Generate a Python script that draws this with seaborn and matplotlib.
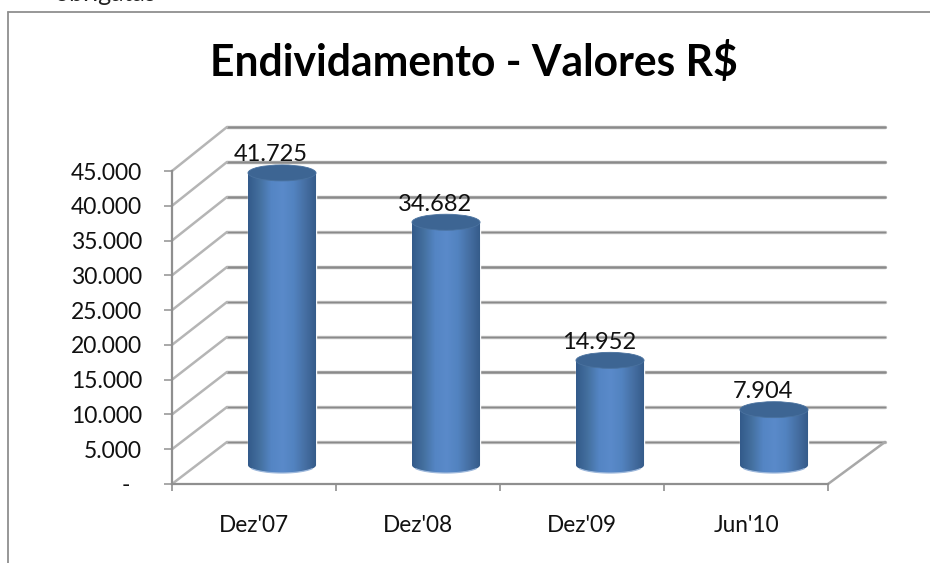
import matplotlib
matplotlib.use("Agg")
import matplotlib.pyplot as plt
import numpy as np
import pandas as pd
import seaborn as sns
from matplotlib.lines import Line2D
from matplotlib.patches import ConnectionPatch, Ellipse
from matplotlib.path import Path
from matplotlib.colors import LinearSegmentedColormap

periodos = ["Dez'07", "Dez'08", "Dez'09", "Jun'10"]
valores = [41725, 34682, 14952, 7904]
eixo_y = [0, 5000, 10000, 15000, 20000, 25000, 30000, 35000, 40000, 45000]
rotulos_y = ["-  ", "5.000", "10.000", "15.000", "20.000", "25.000", "30.000", "35.000", "40.000", "45.000"]
titulo = "Endividamento - Valores R$"
texto_cortado = "obrigatas"

W, H = 930, 563
sns.set_theme(style="white")
plt.rcParams["font.family"] = ["Lato", "DejaVu Sans"]

fig = plt.figure(figsize=(W / 100, H / 100), dpi=100)


def caixa(x0, x1, y_top, y_bot):
    return [x0 / W, 1 - y_bot / H, (x1 - x0) / W, (y_bot - y_top) / H]


def linha_fig(x0, y0, x1, y1, **kw):
    fig.add_artist(Line2D([x0 / W, x1 / W], [1 - y0 / H, 1 - y1 / H], transform=fig.transFigure, **kw))


# moldura do grafico
linha_fig(8, 12, 930, 12, color="#8f8f8f", lw=1.3)
linha_fig(8, 12, 8, 563, color="#8f8f8f", lw=1.3)

# resto do texto da pagina, cortado na borda de cima como no original
fig.text(55 / W, 1 - 1 / H, texto_cortado, ha="left", va="baseline", fontsize=18, color="#222222")

# parede do fundo
ax_fundo = fig.add_axes(caixa(227, 885, 127, 442))
ax_fundo.set_xlim(-0.5, 3.5)
ax_fundo.set_ylim(0, 45000)
ax_fundo.axis("off")
for i, v in enumerate(eixo_y):
    claro = "#bdbdbd" if i in (0, 1, 3, 4, 6) else "#a6a6a6"
    ax_fundo.axhline(v, color=claro, lw=2.4, clip_on=False, zorder=1)
    ax_fundo.axhline(v, color="#8a8a8a", lw=1.0, clip_on=False, zorder=2)

# eixos da frente
ax = fig.add_axes(caixa(172, 828, 171, 484))
ax.patch.set_alpha(0)
ax.set_xlim(-0.5, 3.5)
ax.set_ylim(0, 45000)
sns.despine(ax=ax, top=True, right=True)
for lado in ("left", "bottom"):
    ax.spines[lado].set_color("#8f8f8f")
    ax.spines[lado].set_linewidth(1.6)
ax.set_yticks(eixo_y)
ax.set_yticklabels(rotulos_y, fontsize=16.5, color="#111111")
ax.set_xticks(range(4))
ax.set_xticklabels(periodos, fontsize=16.3, color="#111111")
ax.set_xticks(np.arange(-0.5, 4, 1), minor=True)
ax.tick_params(axis="x", which="major", length=0, pad=22.5)
ax.tick_params(axis="x", which="minor", length=5, width=1.2, color="#8f8f8f", bottom=True)
ax.tick_params(axis="y", length=6, width=1.2, color="#9a9a9a", pad=15.5, left=True)

# linhas laterais e do piso
for v in eixo_y:
    ax.add_artist(ConnectionPatch((-0.5, v), (-0.5, v), "data", "data", axesA=ax, axesB=ax_fundo,
                                  color="#b5b5b5", lw=1.8, zorder=0))
ax.add_artist(ConnectionPatch((3.5, 0), (3.5, 0), "data", "data", axesA=ax, axesB=ax_fundo,
                              color="#a8a8a8", lw=1.8, zorder=0))

# colunas
ax_bar = fig.add_axes(caixa(200, 856, 465 - 47000 * 0.007, 465 + 3000 * 0.007))
ax_bar.patch.set_alpha(0)
df = pd.DataFrame({"periodo": periodos, "valor": valores})
sns.barplot(data=df, x="periodo", y="valor", ax=ax_bar, width=0.415, color="#4f81bd", saturation=1)
ax_bar.axis("off")

grad = LinearSegmentedColormap.from_list(
    "cil", ["#335a8a", "#44709f", "#5485c4", "#5a8aca", "#5283c0", "#466fa3", "#345a88"])
faixa = np.linspace(0, 1, 128).reshape(1, -1)
alt_elipse = 8 / 0.007

for barra, v in zip(ax_bar.patches, valores):
    x0, larg = barra.get_x(), barra.get_width()
    meio = x0 + larg / 2
    t = np.linspace(np.pi, 2 * np.pi, 40)
    arco = np.column_stack([meio + larg / 2 * np.cos(t), alt_elipse * np.sin(t)])
    pontos = np.vstack([[[x0, v]], arco, [[x0 + larg, v]], [[x0, v]]])
    contorno = Path(pontos, closed=True)
    img = ax_bar.imshow(faixa, extent=[x0, x0 + larg, -alt_elipse, v], aspect="auto", cmap=grad, zorder=3)
    img.set_clip_path(contorno, transform=ax_bar.transData)
    ax_bar.plot(arco[6:34, 0], arco[6:34, 1], color="#9db8dc", lw=0.9, zorder=4)
    ax_bar.add_patch(Ellipse((meio, v), larg, 2 * alt_elipse, fc="#3d6593", ec="#4a729f", lw=0.6, zorder=5))
    ax_bar.annotate(f"{v:,}".replace(",", "."), (meio, v), xytext=(-8, 13), textcoords="offset points",
                    ha="center", va="center", fontsize=17, color="#111111", zorder=6, annotation_clip=False)

ax_bar.set_xlim(-0.5, 3.5)
ax_bar.set_ylim(-3000, 47000)

fig.text(474 / W, 1 - 62 / H, titulo, ha="center", va="center", fontsize=30.7, fontweight="bold", color="black")

fig.savefig("out.png", dpi=100)
